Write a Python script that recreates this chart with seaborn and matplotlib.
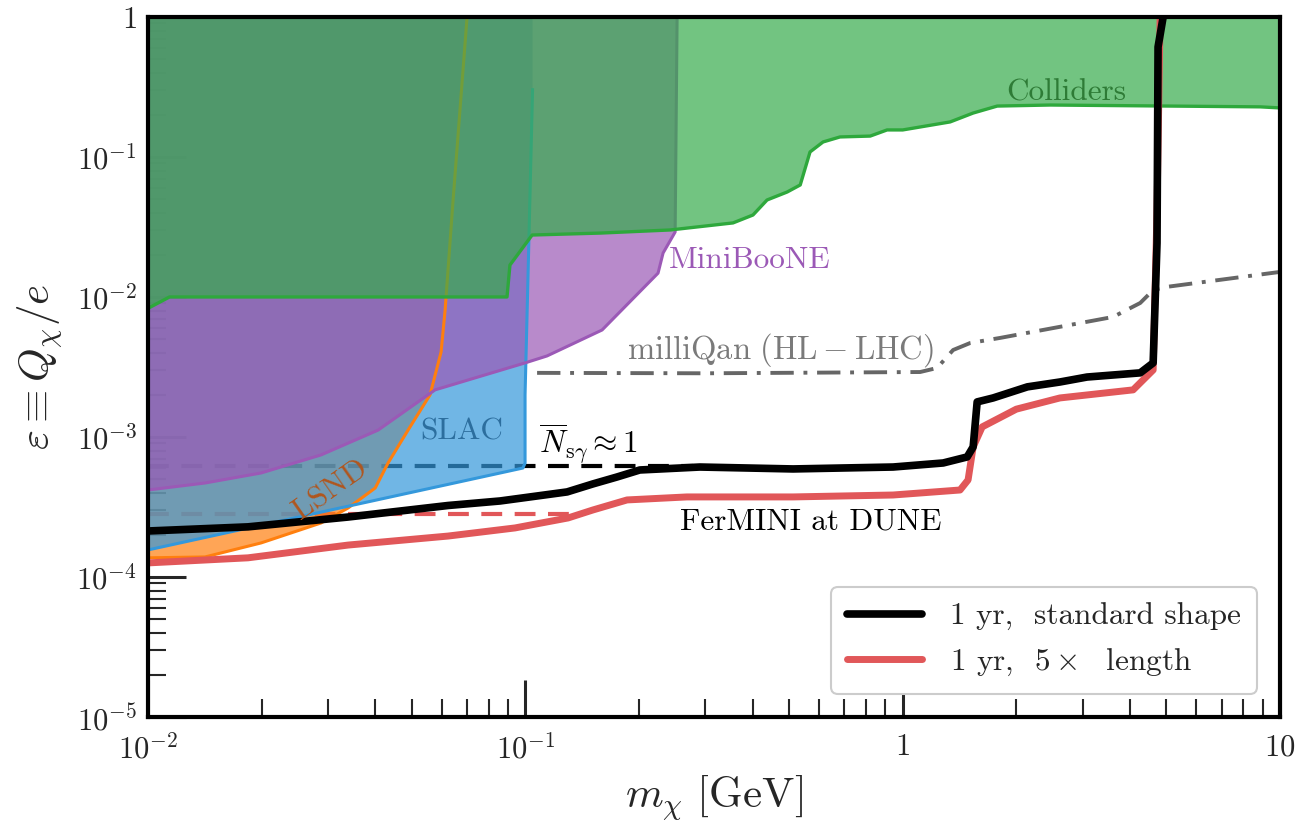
import matplotlib
matplotlib.use("Agg")
import matplotlib.pyplot as plt
from matplotlib.lines import Line2D
from matplotlib.ticker import FixedLocator, FixedFormatter, LogLocator, NullFormatter
import seaborn as sns

# ---- existing bounds (mass in GeV, epsilon = Q/e) ----
lsnd_m = [0.01, 0.01416, 0.01993, 0.02873, 0.0339, 0.0400, 0.04326, 0.04888,
          0.05589, 0.05979, 0.06127, 0.06433, 0.07006]
lsnd_eps = [1.37e-4, 1.39e-4, 1.75e-4, 2.43e-4, 3.11e-4, 4.32e-4, 6.52e-4, 1.12e-3,
            2.0e-3, 4.05e-3, 8.07e-3, 0.0493, 1.0]

slac_m = [0.01, 0.0985, 0.0998, 0.0998, 0.1013, 0.1045]
slac_eps = [1.56e-4, 6.0e-4, 6.5e-4, 2.0e-3, 0.01, 0.31]

mb_m = [0.01, 0.01416, 0.01993, 0.02873, 0.04072, 0.05764, 0.0998, 0.1141,
        0.1597, 0.2247, 0.2317, 0.2494, 0.2524]
mb_eps = [4.18e-4, 4.69e-4, 5.53e-4, 7.44e-4, 1.12e-3, 2.17e-3, 3.38e-3, 3.79e-3,
          5.81e-3, 0.0148, 0.0206, 0.0291, 1.0]

col_m = [0.01, 0.0114, 0.0894, 0.091, 0.1042, 0.158, 0.242, 0.355, 0.401, 0.437,
         0.494, 0.535, 0.568, 0.615, 0.682, 0.82, 0.909, 1.0, 1.336, 1.537, 1.78,
         2.46, 8.86, 10.0]
col_eps = [8.3e-3, 0.01, 0.01, 0.0169, 0.0277, 0.0286, 0.0301, 0.0338, 0.0385, 0.0493,
           0.0562, 0.0631, 0.1086, 0.128, 0.139, 0.141, 0.156, 0.156, 0.178, 0.206, 0.231,
           0.235, 0.228, 0.224]

mq_m = [0.1074, 0.3, 1.112, 1.233, 1.36, 1.509, 1.812, 3.61, 4.26, 4.61, 5.0, 10.0]
mq_eps = [2.87e-3, 2.85e-3, 2.91e-3, 3.11e-3, 4.18e-3, 4.69e-3, 5.1e-3, 7.2e-3,
          9.06e-3, 0.0112, 0.0118, 0.0151]

# ---- FerMINI at DUNE sensitivity ----
std_m = [0.01, 0.0184, 0.0339, 0.0624, 0.0857, 0.129, 0.151, 0.175, 0.201, 0.29,
         0.512, 0.943, 1.28, 1.482, 1.537, 1.575, 1.736, 2.14, 2.61, 3.08, 4.26,
         4.61, 4.72, 4.75, 4.9]
std_eps = [2.13e-4, 2.28e-4, 2.68e-4, 3.24e-4, 3.49e-4, 4.05e-4, 4.62e-4, 5.18e-4,
           5.81e-4, 6.1e-4, 5.91e-4, 6.1e-4, 6.52e-4, 7.2e-4, 8.49e-4, 1.78e-3,
           1.9e-3, 2.28e-3, 2.47e-3, 2.68e-3, 2.87e-3, 3.38e-3, 0.0243, 0.611, 1.0]

long_m = [0.01, 0.0184, 0.0339, 0.0624, 0.0939, 0.1298, 0.151, 0.186, 0.268, 0.512,
          0.943, 1.419, 1.49, 1.537, 1.624, 2.0, 2.61, 4.08, 4.61, 4.72, 4.81]
long_eps = [1.26e-4, 1.37e-4, 1.69e-4, 1.96e-4, 2.24e-4, 2.64e-4, 3.01e-4, 3.55e-4,
            3.73e-4, 3.73e-4, 3.85e-4, 4.18e-4, 4.93e-4, 8.49e-4, 1.18e-3, 1.58e-3,
            1.9e-3, 2.17e-3, 3.01e-3, 0.0418, 1.0]

# N_sgamma ~ 1 levels
nsg_m = [0.01, 0.278]
nsg_eps = [6.2e-4, 6.2e-4]
nsg_long_m = [0.01, 0.142]
nsg_long_eps = [2.82e-4, 2.82e-4]

x_ticks = [0.01, 0.1, 1, 10]
x_ticklabels = [r"$10^{-2}$", r"$10^{-1}$", r"$1$", r"$10$"]
y_ticks = [1e-5, 1e-4, 1e-3, 1e-2, 1e-1, 1]
y_ticklabels = [r"$10^{-5}$", r"$10^{-4}$", r"$10^{-3}$", r"$10^{-2}$", r"$10^{-1}$", r"$1$"]

legend_labels = [r"1 yr,  standard shape", r"1 yr,  $5\times$  length"]

sns.set_style("ticks")
plt.rcParams["font.family"] = "serif"
plt.rcParams["font.serif"] = ["cmr10", "DejaVu Serif"]
plt.rcParams["mathtext.fontset"] = "cm"
plt.rcParams["axes.unicode_minus"] = False
plt.rcParams["axes.formatter.use_mathtext"] = True

C_ORANGE = "#ff7f0e"
C_BLUE = "#3498db"
C_PURPLE = "#9b59b6"
C_GREEN_FILL = "#36ab4c"
C_GREEN_LINE = "#2ea83c"
C_RED = "#e15759"

fig = plt.figure(figsize=(13.01, 8.24), dpi=100)
ax = fig.add_axes([0.1138, 0.1299, 0.8701, 0.8495])
ax.set_xscale("log")
ax.set_yscale("log")
ax.set_xlim(0.01, 10)
ax.set_ylim(1e-5, 1)
ax.set_axisbelow(True)

# exclusion regions (filled up to epsilon = 1)
ax.fill(lsnd_m + [0.01], lsnd_eps + [1.0], color=C_ORANGE, alpha=0.7, lw=0, zorder=1)
ax.fill(slac_m + [0.1045, 0.01], slac_eps + [1.0, 1.0], color=C_BLUE, alpha=0.7, lw=0, zorder=1.1)
ax.fill(mb_m + [0.01], mb_eps + [1.0], color=C_PURPLE, alpha=0.7, lw=0, zorder=1.2)

sns.lineplot(x=lsnd_m, y=lsnd_eps, ax=ax, sort=False, estimator=None,
             color=C_ORANGE, lw=2.2, zorder=1.3)
sns.lineplot(x=slac_m, y=slac_eps, ax=ax, sort=False, estimator=None,
             color=C_BLUE, lw=2.2, zorder=1.3)
sns.lineplot(x=mb_m, y=mb_eps, ax=ax, sort=False, estimator=None,
             color=C_PURPLE, lw=2.2, zorder=1.3)

ax.fill(col_m + [10.0, 0.01], col_eps + [1.0, 1.0], color=C_GREEN_FILL, alpha=0.7, lw=0, zorder=1.5)
sns.lineplot(x=col_m, y=col_eps, ax=ax, sort=False, estimator=None,
             color=C_GREEN_LINE, lw=2.4, zorder=1.6)

# N_sgamma ~ 1 dashed levels sit beneath the filled regions
ax.plot(nsg_m, nsg_eps, color="black", lw=3, dashes=(5, 3), zorder=0.8)
ax.plot(nsg_long_m, nsg_long_eps, color=C_RED, lw=3, dashes=(5, 3), zorder=0.8)

# milliQan projection
ax.plot(mq_m, mq_eps, color="#666666", lw=2.8, dashes=(6, 2.5, 1, 2.5), zorder=2)

# FerMINI sensitivity curves
sns.lineplot(x=long_m, y=long_eps, ax=ax, sort=False, estimator=None,
             color=C_RED, lw=5.0, zorder=3)
sns.lineplot(x=std_m, y=std_eps, ax=ax, sort=False, estimator=None,
             color="black", lw=5.5, zorder=3.1)
for ln in ax.get_lines():
    ln.set_solid_joinstyle("round")
    ln.set_solid_capstyle("butt")

# region labels
fs = 22.5
ax.text(2.71, 0.29, "Colliders", color="#2e7b36", fontsize=fs, ha="center", va="center", zorder=4)
ax.text(0.394, 0.0184, "MiniBooNE", color=C_PURPLE, fontsize=fs, ha="center", va="center", zorder=4)
ax.text(0.473, 4.18e-3, r"$\mathrm{milliQan\ (HL-LHC)}$", color="#7a7a7a", fontsize=23.5,
        ha="center", va="center", zorder=4)
ax.text(0.0679, 1.09e-3, "SLAC", color="#2c6e9e", fontsize=fs, ha="center", va="center", zorder=4)
ax.text(0.0304, 4.18e-4, "LSND", color="#b0561e", fontsize=fs, ha="center", va="center",
        rotation=35, zorder=4)
ax.text(0.1466, 8.9e-4, r"$\overline{N}_{\mathrm{s}\gamma}\approx 1$", color="black", fontsize=fs,
        ha="center", va="center", zorder=4)
ax.text(0.5716, 2.47e-4, "FerMINI at DUNE", color="black", fontsize=fs, ha="center",
        va="center", zorder=4)

# axes, ticks
ax.xaxis.set_major_locator(FixedLocator(x_ticks))
ax.xaxis.set_major_formatter(FixedFormatter(x_ticklabels))
ax.yaxis.set_major_locator(FixedLocator(y_ticks))
ax.yaxis.set_major_formatter(FixedFormatter(y_ticklabels))
ax.xaxis.set_minor_locator(LogLocator(base=10, subs=range(2, 10), numticks=20))
ax.yaxis.set_minor_locator(LogLocator(base=10, subs=range(2, 10), numticks=20))
ax.xaxis.set_minor_formatter(NullFormatter())
ax.yaxis.set_minor_formatter(NullFormatter())
ax.tick_params(which="major", direction="in", length=27, width=2.2, labelsize=22,
               top=False, right=False, pad=8)
ax.tick_params(which="minor", direction="in", length=13, width=1.5, top=False, right=False)
ax.tick_params(axis="x", which="major", pad=12)
for sp in ax.spines.values():
    sp.set_linewidth(3)
    sp.set_color("black")
    sp.set_zorder(5)

ax.set_xlabel(r"$m_\chi\ [\mathrm{GeV}]$", fontsize=31, labelpad=6)
ax.set_ylabel(r"$\varepsilon\equiv Q_\chi/e$", fontsize=31, labelpad=8)

handles = [Line2D([], [], color="black", lw=5.5), Line2D([], [], color=C_RED, lw=5.0)]
leg = ax.legend(handles, legend_labels, loc="lower right", fontsize=22.5, frameon=True,
                handlelength=2.4, borderaxespad=0.75, framealpha=1, edgecolor="#cccccc",
                fancybox=True, handletextpad=0.9, borderpad=0.5, labelspacing=0.5)
leg.get_frame().set_linewidth(1.5)
leg.set_zorder(6)

fig.savefig("out.png", dpi=100)
